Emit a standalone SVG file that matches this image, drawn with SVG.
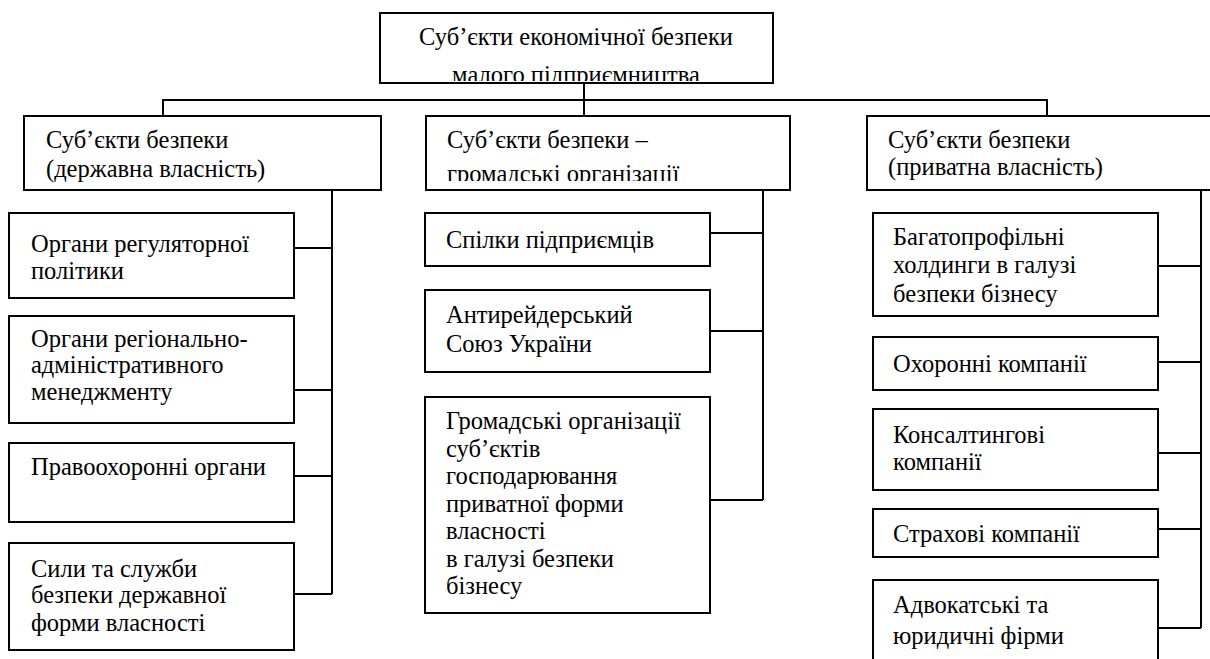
<svg xmlns="http://www.w3.org/2000/svg" width="1210" height="659" viewBox="0 0 1210 659">
<style>
.box{fill:#fff;stroke:#000;stroke-width:2}
.t{font-size:24.5px;fill:#000}
.c{font-size:24.5px;fill:#000;text-anchor:middle}
.ln{fill:none;stroke:#000;stroke-width:2}
</style>
<defs>
<clipPath id="clipTop"><rect x="381" y="14" width="391" height="67"/></clipPath>
<clipPath id="clipMid"><rect x="427" y="117" width="362" height="64"/></clipPath>
<clipPath id="clipR1"><rect x="874" y="214" width="283" height="93"/></clipPath>
</defs>
<rect width="1210" height="659" fill="#fff"/>
<g id="connectors">
<path class="ln" d="M584,83 V116 M163,116 V100 H1047 V116"/>
<path class="ln" d="M332,190 V594 M294,248 H332 M294,390 H332 M294,476 H332 M294,594 H332"/>
<path class="ln" d="M763,190 V500 M710,233 H763 M710,331 H763 M710,500 H763"/>
<path class="ln" d="M1201,190 V628 M1158,266 H1201 M1158,362 H1201 M1158,453 H1201 M1158,529 H1201 M1158,628 H1201"/>
</g>
<g font-family="'Liberation Serif', 'Times New Roman', serif">
<g id="root">
<rect class="box" x="380" y="13" width="393" height="70"/>
<g clip-path="url(#clipTop)">
<text class="c" x="576" y="45">Суб’єкти економічної безпеки</text>
<text class="c" x="576" y="83">малого підприємництва</text>
</g>
</g>
<g id="state">
<rect class="box" x="24" y="116" width="357" height="74"/>
<text class="t" x="46" y="148">Суб’єкти безпеки</text>
<text class="t" x="46" y="177">(державна власність)</text>
</g>
<g id="public">
<rect class="box" x="426" y="116" width="364" height="74"/>
<g clip-path="url(#clipMid)">
<text class="t" x="447" y="148">Суб’єкти безпеки –</text>
<text class="t" x="447" y="182">громадські організації</text>
</g>
</g>
<g id="private">
<rect class="box" x="867" y="116" width="357" height="74"/>
<text class="t" x="888" y="148">Суб’єкти безпеки</text>
<text class="t" x="888" y="175">(приватна власність)</text>
</g>
<g id="s1">
<rect class="box" x="9" y="213" width="285" height="85"/>
<text class="t" x="31" y="252">Органи регуляторної</text>
<text class="t" x="31" y="279">політики</text>
</g>
<g id="s2">
<rect class="box" x="9" y="316" width="285" height="107"/>
<text class="t" x="31" y="347">Органи регіонально-</text>
<text class="t" x="31" y="373">адміністративного</text>
<text class="t" x="31" y="400">менеджменту</text>
</g>
<g id="s3">
<rect class="box" x="9" y="443" width="285" height="79"/>
<text class="t" x="31" y="475">Правоохоронні органи</text>
</g>
<g id="s4">
<rect class="box" x="9" y="543" width="285" height="107"/>
<text class="t" x="31" y="577">Сили та служби</text>
<text class="t" x="31" y="603">безпеки державної</text>
<text class="t" x="31" y="631">форми власності</text>
</g>
<g id="p1">
<rect class="box" x="425" y="213" width="285" height="53"/>
<text class="t" x="446" y="248">Спілки підприємців</text>
</g>
<g id="p2">
<rect class="box" x="425" y="290" width="285" height="82"/>
<text class="t" x="446" y="323">Антирейдерський</text>
<text class="t" x="446" y="352">Союз України</text>
</g>
<g id="p3">
<rect class="box" x="425" y="397" width="285" height="216"/>
<text class="t" x="446" y="429">Громадські організації</text>
<text class="t" x="446" y="457">суб’єктів</text>
<text class="t" x="446" y="484">господарювання</text>
<text class="t" x="446" y="512">приватної форми</text>
<text class="t" x="446" y="539">власності</text>
<text class="t" x="446" y="567">в галузі безпеки</text>
<text class="t" x="446" y="594">бізнесу</text>
</g>
<g id="r1">
<rect class="box" x="873" y="213" width="285" height="103"/>
<g clip-path="url(#clipR1)">
<text class="t" x="893" y="245">Багатопрофільні</text>
<text class="t" x="893" y="273">холдинги в галузі</text>
<text class="t" x="893" y="302">безпеки бізнесу</text>
</g>
</g>
<g id="r2">
<rect class="box" x="873" y="337" width="285" height="53"/>
<text class="t" x="893" y="372">Охоронні компанії</text>
</g>
<g id="r3">
<rect class="box" x="873" y="409" width="285" height="81"/>
<text class="t" x="893" y="443">Консалтингові</text>
<text class="t" x="893" y="470">компанії</text>
</g>
<g id="r4">
<rect class="box" x="873" y="509" width="285" height="48"/>
<text class="t" x="893" y="542">Страхові компанії</text>
</g>
<g id="r5">
<rect class="box" x="873" y="580" width="285" height="100"/>
<text class="t" x="893" y="613">Адвокатські та</text>
<text class="t" x="893" y="644">юридичні фірми</text>
</g>
</g>
</svg>
